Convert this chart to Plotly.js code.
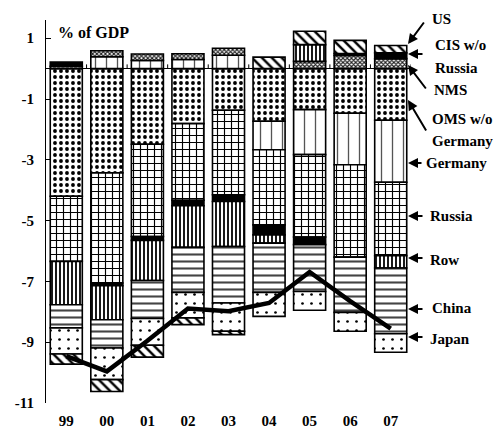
<!DOCTYPE html>
<html>
<head>
<meta charset="utf-8">
<script src="https://cdn.plot.ly/plotly-3.0.1.min.js"></script>
<style>html,body{margin:0;padding:0;background:#fff;}#chart{width:503px;height:430px;}</style>
</head>
<body>
<div id="chart"></div>
<script>
// ---- data (% of GDP) ----
const years   = ['99','00','01','02','03','04','05','06','07'];
const oms     = [-4.20, -3.43, -2.49, -1.81, -1.37, -1.73, -1.35, -1.47, -1.70];
const germany = [null, 0.39, 0.27, 0.30, 0.44, -0.94, -1.48, -1.69, -2.04];
const nms     = [0.08, 0.20, 0.21, 0.19, 0.23, null, 0.24, 0.43, 0.33];
const russia  = [-2.14, -3.62, -3.03, -2.52, -2.78, -2.47, -2.71, -3.04, -2.41];
const cis     = [0.14, -0.09, -0.13, -0.18, -0.22, -0.33, -0.25, 0.07, 0.19];
const row     = [-1.43, -1.12, -1.32, -1.37, -1.48, -0.27, 0.55, null, -0.41];
const china   = [-0.76, -0.93, -1.25, -1.48, -1.86, -1.62, -1.54, -1.82, -2.16];
const japan   = [-0.86, -1.04, -0.88, -0.84, -0.93, -0.79, -0.62, -0.62, -0.61];
const us      = [-0.33, -0.39, -0.39, -0.22, -0.11, 0.38, 0.44, 0.43, 0.24];
const net     = [-9.46, -9.96, -8.95, -7.89, -7.98, -7.71, -6.69, -7.65, -8.55];
const yTicks  = [1, -1, -3, -5, -7, -9, -11];

const FONT = 'Liberation Serif, Times New Roman, serif';
const W = 503, H = 430, ML = 46, MR = 92, MT = 20, MB = 27;
const PW = W - ML - MR, PH = H - MT - MB;
const px2x = p => (p - ML) / PW;
const px2y = p => (H - MB - p) / PH;
const b = s => '<b>' + s + '</b>';

function pat(shape, size, solidity, fg) {
  return {shape: shape, size: size, solidity: solidity, fillmode: 'replace',
          fgcolor: fg || '#000', bgcolor: '#fff'};
}
function barTrace(name, vals, pattern, color) {
  const m = {line: {color: '#000', width: 1.6}};
  if (pattern) { m.pattern = pattern; m.color = '#fff'; } else { m.color = color; }
  return {type: 'bar', name: name, x: years, y: vals, marker: m, hoverinfo: 'skip'};
}

const traces = [
  barTrace('OMS w/o Germany', oms, pat('.', 6, 0.32)),
  barTrace('Germany', germany, pat('|', 11, 0.12, '#555')),
  barTrace('NMS', nms, pat('x', 3, 0.6, '#222')),
  barTrace('Russia', russia, pat('+', 7, 0.3)),
  barTrace('CIS w/o Russia', cis, null, '#000'),
  barTrace('Row', row, pat('|', 4, 0.45)),
  barTrace('China', china, pat('-', 7, 0.3, '#444')),
  barTrace('Japan', japan, pat('.', 9, 0.07)),
  barTrace('US', us, pat('\\', 7, 0.35)),
  {type: 'scatter', mode: 'lines', name: 'Total', x: years, y: net,
   line: {color: '#000', width: 4.5}, hoverinfo: 'skip'}
];

// small tick marks on the zero line at category boundaries
const shapes = years.map((c, i) => ({
  type: 'line', xref: 'x', yref: 'y', x0: i + 0.5, x1: i + 0.5, y0: 0, y1: 0.14,
  line: {color: '#000', width: 1}
}));

const lf = {family: FONT, size: 15, color: '#000'};
function label(text, leftPx, midPx) {
  return {xref: 'paper', yref: 'paper', x: px2x(leftPx), y: px2y(midPx), text: b(text),
          showarrow: false, xanchor: 'left', yanchor: 'middle', font: lf};
}
function arrow(headX, headY, tailX, tailY) {
  return {xref: 'paper', yref: 'paper', x: px2x(headX), y: px2y(headY), text: '',
          showarrow: true, ax: tailX - headX, ay: tailY - headY,
          arrowhead: 2, arrowsize: 1, arrowwidth: 2, arrowcolor: '#000', standoff: 0};
}

const annotations = [
  {xref: 'paper', yref: 'paper', x: px2x(56), y: px2y(33), text: b('% of GDP'), showarrow: false,
   xanchor: 'left', yanchor: 'middle', font: {family: FONT, size: 16, color: '#000'}},
  label('US', 430, 19),
  label('CIS w/o', 433, 45),
  label('Russia', 433, 68),
  label('NMS', 432, 90),
  label('OMS w/o', 430, 119),
  label('Germany', 430, 141),
  label('Germany', 424, 163),
  label('Russia', 428, 216),
  label('Row', 428, 260),
  label('China', 430, 308),
  label('Japan', 428, 339),
  arrow(408, 44, 425, 21),
  arrow(408, 54, 424, 54),
  arrow(408, 65, 427, 90),
  arrow(408, 100, 427, 132),
  arrow(408, 163, 423, 163),
  arrow(408, 216, 424, 216),
  arrow(408, 258, 424, 258),
  arrow(408, 309, 424, 309),
  arrow(408, 337, 424, 337)
];

const tf = {family: FONT, size: 15, color: '#000'};
const layout = {
  width: W, height: H,
  margin: {l: ML, r: MR, t: MT, b: MB},
  paper_bgcolor: '#fff', plot_bgcolor: '#fff',
  barmode: 'relative', bargap: 0.21,
  showlegend: false,
  font: {family: FONT, color: '#000'},
  xaxis: {type: 'category', range: [-0.5, 8.5], showline: false, ticks: '',
          tickvals: years, ticktext: years.map(b),
          showgrid: false, zeroline: false, fixedrange: true,
          tickfont: tf, ticklabelstandoff: 7},
  yaxis: {range: [-11, 1.6], tickvals: yTicks, ticktext: yTicks.map(v => b(String(v))),
          ticks: 'inside', ticklen: 5, tickcolor: '#000', showline: true,
          linecolor: '#000', linewidth: 1, showgrid: false,
          zeroline: true, zerolinecolor: '#000', zerolinewidth: 1,
          tickfont: tf, ticklabelstandoff: 8, fixedrange: true},
  shapes: shapes,
  annotations: annotations
};

Plotly.newPlot('chart', traces, layout, {staticPlot: true, displayModeBar: false});
</script>
</body>
</html>
